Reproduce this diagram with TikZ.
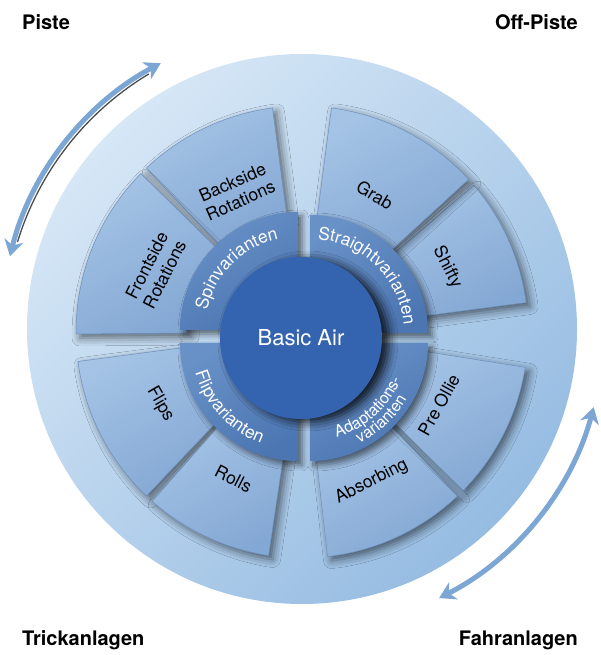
\documentclass[tikz,border=0pt]{standalone}
\usepackage{fontspec}
\setmainfont{TeX Gyre Heros}
\usepackage{tikz}
\usetikzlibrary{arrows.meta, decorations.text, shadows.blur}

\definecolor{disclight}{RGB}{214,231,246}
\definecolor{discdark}{RGB}{150,188,226}
\definecolor{seglight}{RGB}{164,195,229}
\definecolor{segdark}{RGB}{132,168,212}
\definecolor{segedge}{RGB}{110,144,190}
\definecolor{ringlight}{RGB}{104,145,199}
\definecolor{ringdark}{RGB}{76,118,178}
\definecolor{airblue}{RGB}{52,100,176}
\definecolor{swingblue}{RGB}{124,166,212}

\newcommand{\ringfont}{\fontsize{17.5}{19}\selectfont}
\newcommand{\adaptfont}{\fontsize{16}{18}\selectfont}

\begin{document}
\begin{tikzpicture}[x=1pt, y=1pt, font=\fontsize{17.5}{20}\selectfont]
	\tikzstyle{segment} = [top color=seglight, bottom color=segdark, shading angle=30, draw=segedge, line width=0.5pt, blur shadow={shadow xshift=4pt, shadow yshift=-4pt, shadow blur radius=8pt, shadow opacity=55}]
	
	\tikzstyle{variant} = [top color=ringlight, bottom color=ringdark, shading angle=30, blur shadow={shadow xshift=4pt, shadow yshift=-4pt, shadow blur radius=6pt, shadow opacity=55}]
	
	\tikzstyle{air} = [circle, minimum size=162pt, fill=airblue, text=white, font=\fontsize{22}{24}\selectfont, blur shadow={shadow xshift=7pt, shadow yshift=-3pt, shadow blur radius=9pt, shadow opacity=85}]
	
	\tikzstyle{seglabel} = [align=center, text=black]
	\tikzstyle{ringtext} = [decorate, decoration={text along path, text align=center, text color=white}]
	\tikzstyle{corner} = [font=\fontsize{20}{24}\selectfont\bfseries, inner sep=0pt]
	
	\tikzstyle{swing} = [draw=swingblue, line width=5pt, {Stealth[length=16pt, width=19pt, inset=5pt]}-{Stealth[length=16pt, width=19pt, inset=5pt]}]
	
	% Page and background disc
	\path[use as bounding box, fill=white] (-302,-323) rectangle (298,332);
	\coordinate (disc) at (0,3);
	\shade[top color=disclight, bottom color=discdark, shading angle=45] (disc) circle[radius=275];
	
	% Double arrows around the disc
	\draw[black!70, line width=1.3pt] (disc) ++(163:297.5) arc[start angle=163, end angle=121, radius=297.5];
	\draw[swing] (disc) ++(166:301) arc[start angle=166, end angle=118, radius=301];
	\draw[swing] (disc) ++(-15:302) arc[start angle=-15, end angle=-63, radius=302];
	
	% Outer segments
	\draw[segment] (7.5:115) arc[start angle=7.5, end angle=40.5, radius=115] -- (40.5:226) arc[start angle=40.5, end angle=7.5, radius=226] -- cycle;
	\draw[segment] (42.5:115) arc[start angle=42.5, end angle=82.5, radius=115] -- (82.5:226) arc[start angle=82.5, end angle=42.5, radius=226] -- cycle;
	\draw[segment] (97.5:115) arc[start angle=97.5, end angle=133.5, radius=115] -- (133.5:226) arc[start angle=133.5, end angle=97.5, radius=226] -- cycle;
	\draw[segment] (135.5:115) arc[start angle=135.5, end angle=180.5, radius=115] -- (180.5:226) arc[start angle=180.5, end angle=135.5, radius=226] -- cycle;
	\draw[segment] (187.5:115) arc[start angle=187.5, end angle=226.5, radius=115] -- (226.5:226) arc[start angle=226.5, end angle=187.5, radius=226] -- cycle;
	\draw[segment] (228.5:115) arc[start angle=228.5, end angle=261.5, radius=115] -- (261.5:226) arc[start angle=261.5, end angle=228.5, radius=226] -- cycle;
	\draw[segment] (276.5:115) arc[start angle=276.5, end angle=313.5, radius=115] -- (313.5:226) arc[start angle=313.5, end angle=276.5, radius=226] -- cycle;
	\draw[segment] (315.5:115) arc[start angle=315.5, end angle=351, radius=115] -- (351:226) arc[start angle=351, end angle=315.5, radius=226] -- cycle;
	
	% Variant ring
	\path[variant, shift={(-4,2)}] (90:70) arc[start angle=90, end angle=180, radius=70] -- (180:118) arc[start angle=180, end angle=90, radius=118] -- cycle;
	\path[variant, shift={(8,-1)}] (0:70) arc[start angle=0, end angle=90, radius=70] -- (90:118) arc[start angle=90, end angle=0, radius=118] -- cycle;
	\path[variant, shift={(-4,-11)}] (180:70) arc[start angle=180, end angle=270, radius=70] -- (270:118) arc[start angle=270, end angle=180, radius=118] -- cycle;
	\path[variant, shift={(8,-11)}] (270:70) arc[start angle=270, end angle=360, radius=70] -- (360:118) arc[start angle=360, end angle=270, radius=118] -- cycle;
	
	% Centre
	\node (air) [air] at (-1,-6) {Basic Air};
	
	% Ring labels
	\path[ringtext, decoration={text={|\ringfont|Spinvarianten}}] (-4,2) ++(180:93) arc[start angle=180, end angle=90, radius=93];
	\path[ringtext, decoration={text={|\ringfont|Straightvarianten}}] (8,-1) ++(90:94) arc[start angle=90, end angle=0, radius=94];
	\path[ringtext, decoration={text={|\ringfont|Flipvarianten}}] (-4,-11) ++(178:107) arc[start angle=178, end angle=268, radius=107];
	\path[ringtext, decoration={text={|\adaptfont|Adaptations-}}] (8,-11) ++(267:98) arc[start angle=267, end angle=357, radius=98];
	\path[ringtext, decoration={text={|\adaptfont|varianten}}] (8,-11) ++(268:112) arc[start angle=268, end angle=358, radius=112];
	
	% Segment labels
	\node (grab) [seglabel, rotate=-31] at (62:155) {Grab};
	\node (shifty) [seglabel, rotate=-63] at (24:159) {Shifty};
	\node (backside) [seglabel, rotate=24] at (115:155) {Backside\\Rotations};
	\node (frontside) [seglabel, rotate=63] at (157:159) {Frontside\\Rotations};
	\node (flips) [seglabel, rotate=-60] at (207:159) {Flips};
	\node (rolls) [seglabel, rotate=-27] at (245:162) {Rolls};
	\node (absorbing) [seglabel, rotate=27] at (295:165) {Absorbing};
	\node (preollie) [seglabel, rotate=61] at (332:155) {Pre Ollie};
	
	% Corner labels
	\node (piste) [corner, anchor=base west] at (-280,302) {Piste};
	\node (offpiste) [corner, anchor=base east] at (276,302) {Off-Piste};
	\node (trick) [corner, anchor=base west] at (-280,-313) {Trickanlagen};
	\node (fahr) [corner, anchor=base east] at (276,-313) {Fahranlagen};
\end{tikzpicture}
\end{document}
